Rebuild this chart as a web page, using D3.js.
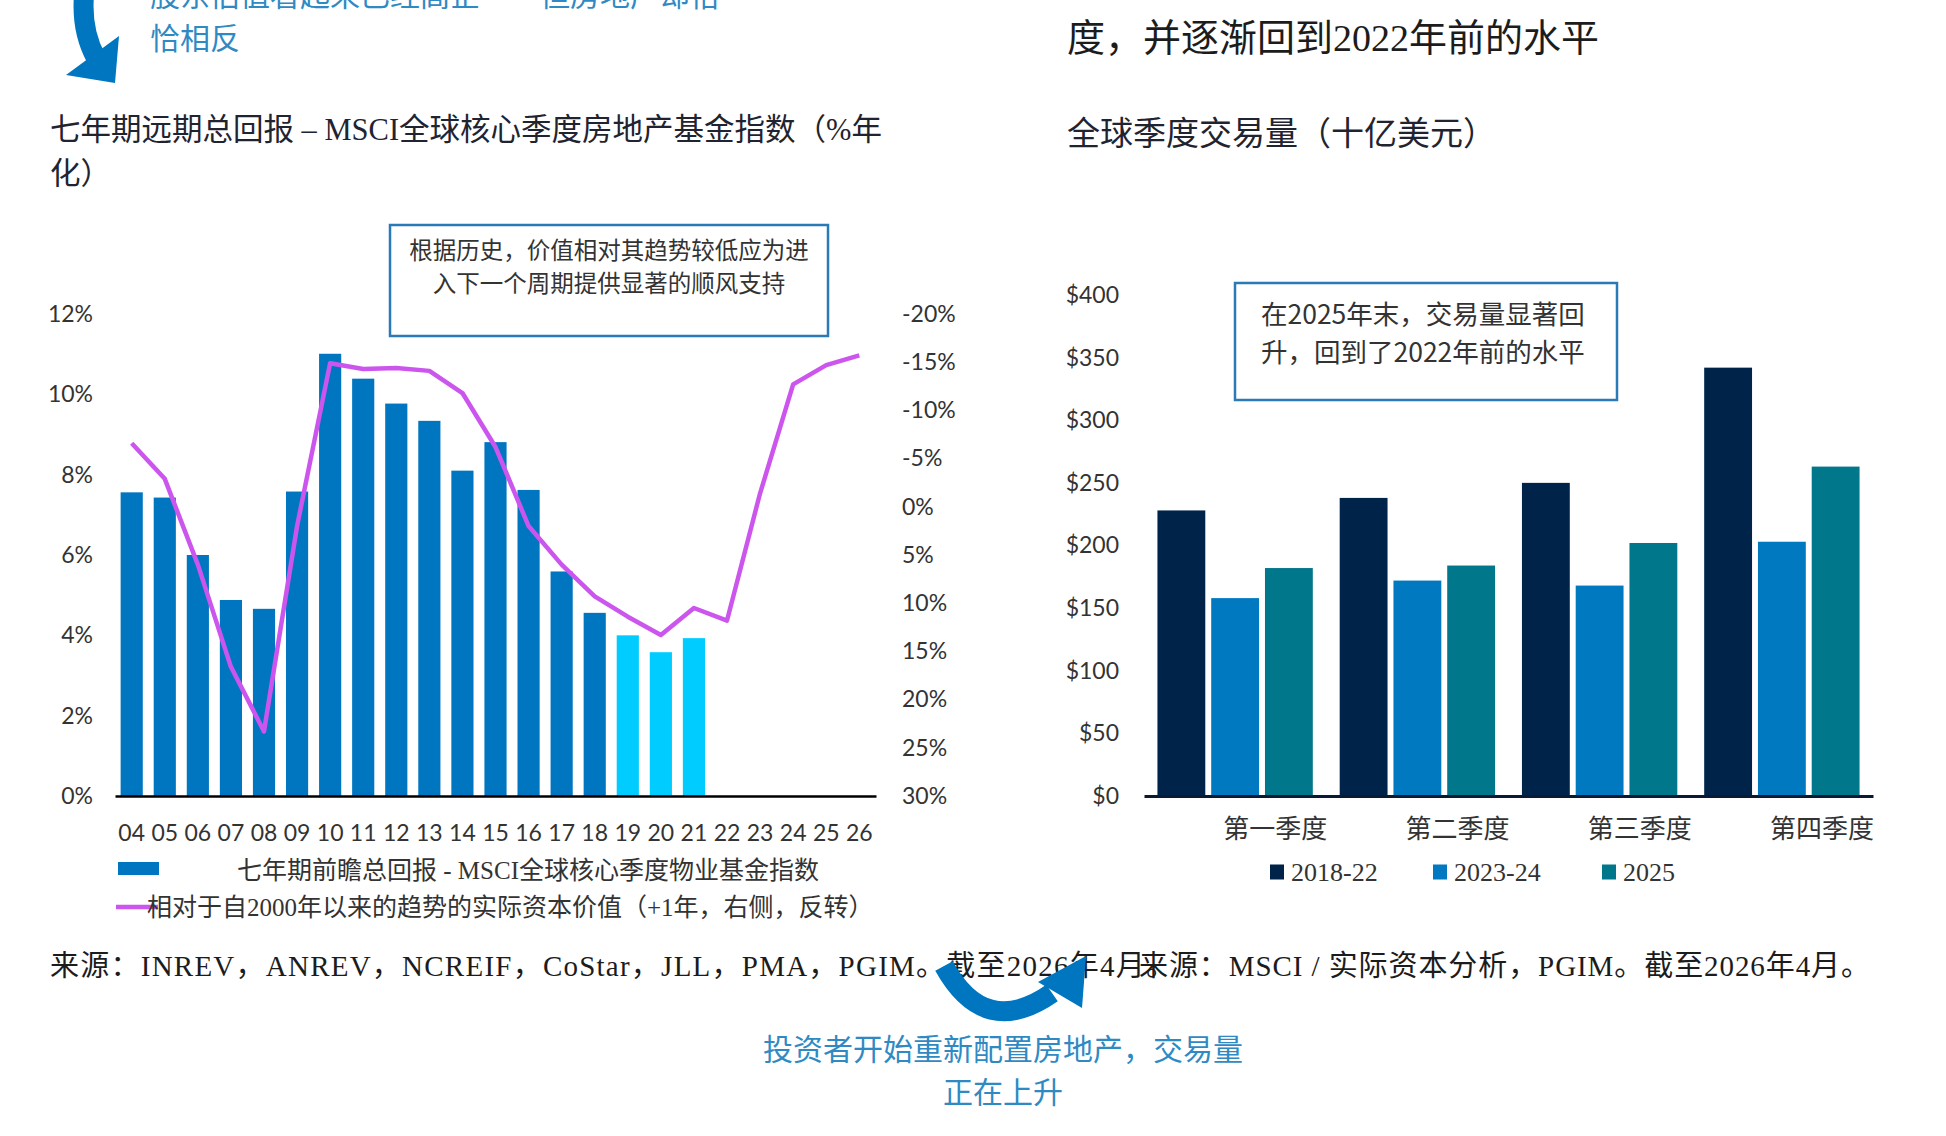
<!DOCTYPE html>
<html>
<head>
<meta charset="utf-8">
<script src="https://cdn.jsdelivr.net/npm/d3@7"></script>
<style>
  body { margin: 0; background: #ffffff; }
</style>
</head>
<body>
<div id="chart"></div>
<script>
const FRAME_WIDTH = 1946;
const FRAME_HEIGHT = 1136;
const SERIF = "'Liberation Serif', 'Noto Sans CJK SC', serif";
const SANS = "Lato, 'Noto Sans CJK SC', sans-serif";
const CJK = "'Noto Sans CJK SC', sans-serif";

// left chart data
const years = ["04", "05", "06", "07", "08", "09", "10", "11", "12", "13", "14", "15",
  "16", "17", "18", "19", "20", "21", "22", "23", "24", "25", "26"];
const returnValues = [7.56, 7.43, 6.00, 4.88, 4.66, 7.58, 11.01, 10.39, 9.77, 9.34, 8.10,
  8.81, 7.62, 5.59, 4.56, 4.00, 3.58, 3.93];
const highlightYears = ["19", "20", "21"];
const capitalValues = [-6.6, -2.9, 6.0, 16.6, 23.3, 2.0, -14.9, -14.3, -14.4, -14.1, -11.8,
  -6.2, 2.0, 6.0, 9.3, 11.4, 13.3, 10.5, 11.8, -1.4, -12.7, -14.7, -15.7];
const leftTicks = [0, 2, 4, 6, 8, 10, 12];
const rightTicks = [-20, -15, -10, -5, 0, 5, 10, 15, 20, 25, 30];

// right chart data
const quarters = ["第一季度", "第二季度", "第三季度", "第四季度"];
const periods = ["2018-22", "2023-24", "2025"];
const vol2018_22 = [228, 238, 250, 342];
const vol2023_24 = [158, 172, 168, 203];
const vol2025 = [182, 184, 202, 263];
const volumeTicks = [0, 50, 100, 150, 200, 250, 300, 350, 400];

let svg = d3.select("#chart")
  .append("svg")
  .attr("width", FRAME_WIDTH)
  .attr("height", FRAME_HEIGHT);

svg.append("rect").attr("width", FRAME_WIDTH).attr("height", FRAME_HEIGHT).attr("fill", "#fff");

// ---------- top texts and arrows ----------
let blueText = "#2f8ac4";

svg.append("path")
  .attr("d", "M 86 -20 Q 78 25 96 58")
  .attr("fill", "none")
  .attr("stroke", "#0076c0")
  .attr("stroke-width", 20);
svg.append("path")
  .attr("d", "M 66 75 L 119 36 L 115 83 Z")
  .attr("fill", "#0076c0");

svg.append("text")
  .attr("x", 150).attr("y", 6)
  .attr("font-family", CJK).attr("font-size", 30).attr("fill", blueText)
  .text("股东估值看起来已经高企……但房地产却恰");
svg.append("text")
  .attr("x", 150).attr("y", 49)
  .attr("font-family", CJK).attr("font-size", 30).attr("fill", blueText)
  .text("恰相反");

svg.append("text")
  .attr("x", 1067).attr("y", 51)
  .attr("font-family", SERIF).attr("font-size", 38).attr("fill", "#1c1c1c")
  .text("度，并逐渐回到2022年前的水平");

// ---------- left chart ----------
svg.append("text")
  .attr("x", 50).attr("y", 140)
  .attr("font-family", SERIF).attr("font-size", 30.5).attr("fill", "#1f2430")
  .text("七年期远期总回报 – MSCI全球核心季度房地产基金指数（%年");
svg.append("text")
  .attr("x", 50).attr("y", 184)
  .attr("font-family", SERIF).attr("font-size", 30.5).attr("fill", "#1f2430")
  .text("化）");

let x_left = d3.scaleBand()
  .domain(years)
  .range([115, 876])
  .paddingInner(0.33)
  .paddingOuter(0.17);

let y_left = d3.scaleLinear().domain([0, 12]).range([796, 314]);
let y_right = d3.scaleLinear().domain([-20, 30]).range([314, 796]);

let barData = returnValues.map(function(v, i) { return { year: years[i], value: v }; });

svg.append("g")
  .selectAll("rect")
  .data(barData)
  .enter()
  .append("rect")
  .attr("x", function(d) { return x_left(d.year); })
  .attr("width", x_left.bandwidth())
  .attr("y", function(d) { return y_left(d.value); })
  .attr("height", function(d) { return y_left(0) - y_left(d.value); })
  .attr("fill", function(d) { return highlightYears.includes(d.year) ? "#00ccff" : "#0076c0"; });

let line = d3.line()
  .x(function(d, i) { return x_left(years[i]) + x_left.bandwidth() / 2; })
  .y(function(d) { return y_right(d); });

svg.append("path")
  .datum(capitalValues)
  .attr("d", line)
  .attr("fill", "none")
  .attr("stroke", "#cc55ee")
  .attr("stroke-width", 4.5)
  .attr("stroke-linejoin", "round");

let xAxisLeft = svg.append("g")
  .attr("transform", "translate(0,796)")
  .call(d3.axisBottom(x_left).tickSize(0).tickSizeOuter(0).tickPadding(29));
xAxisLeft.select(".domain").attr("stroke", "#000").attr("stroke-width", 2.5);
xAxisLeft.selectAll("text").attr("font-family", SANS).attr("font-size", 23).attr("fill", "#333");

let yAxisLeft = svg.append("g")
  .attr("transform", "translate(93,0)")
  .call(d3.axisLeft(y_left).tickValues(leftTicks).tickSize(0).tickPadding(0)
    .tickFormat(function(d) { return d + "%"; }));
yAxisLeft.select(".domain").remove();
yAxisLeft.selectAll("text").attr("font-family", SANS).attr("font-size", 23).attr("fill", "#333");

let yAxisRight = svg.append("g")
  .attr("transform", "translate(902,0)")
  .call(d3.axisRight(y_right).tickValues(rightTicks).tickSize(0).tickPadding(0)
    .tickFormat(function(d) { return d + "%"; }));
yAxisRight.select(".domain").remove();
yAxisRight.selectAll("text").attr("font-family", SANS).attr("font-size", 23).attr("fill", "#333");

// annotation box (left)
svg.append("rect")
  .attr("x", 390).attr("y", 225).attr("width", 438).attr("height", 111)
  .attr("fill", "#fff").attr("stroke", "#2a7ab8").attr("stroke-width", 2.5);
svg.append("text")
  .attr("x", 609).attr("y", 259).attr("text-anchor", "middle")
  .attr("font-family", CJK).attr("font-size", 23.5).attr("fill", "#333")
  .text("根据历史，价值相对其趋势较低应为进");
svg.append("text")
  .attr("x", 609).attr("y", 292).attr("text-anchor", "middle")
  .attr("font-family", CJK).attr("font-size", 23.5).attr("fill", "#333")
  .text("入下一个周期提供显著的顺风支持");

// left legend
svg.append("rect")
  .attr("x", 118).attr("y", 862).attr("width", 41).attr("height", 13)
  .attr("fill", "#0076c0");
svg.append("text")
  .attr("x", 237).attr("y", 879)
  .attr("font-family", SERIF).attr("font-size", 25).attr("fill", "#333")
  .text("七年期前瞻总回报 - MSCI全球核心季度物业基金指数");
svg.append("line")
  .attr("x1", 116).attr("x2", 158).attr("y1", 907).attr("y2", 907)
  .attr("stroke", "#cc55ee").attr("stroke-width", 4.5);
svg.append("text")
  .attr("x", 147).attr("y", 916)
  .attr("font-family", SERIF).attr("font-size", 25).attr("fill", "#333")
  .text("相对于自2000年以来的趋势的实际资本价值（+1年，右侧，反转）");

// ---------- right chart ----------
svg.append("text")
  .attr("x", 1067).attr("y", 145)
  .attr("font-family", SERIF).attr("font-size", 33).attr("fill", "#1f2430")
  .text("全球季度交易量（十亿美元）");

let x0 = d3.scaleBand().domain(quarters).range([1144, 1873]);
let x1 = d3.scaleBand().domain(periods).range([0, x0.bandwidth()])
  .paddingInner(0.11).paddingOuter(0.25);
let y_vol = d3.scaleLinear().domain([0, 400]).range([796, 295]);
let color = d3.scaleOrdinal().domain(periods).range(["#00234a", "#0079c1", "#00778b"]);

let volumeRows = quarters.map(function(q, i) {
  return { quarter: q, values: [vol2018_22[i], vol2023_24[i], vol2025[i]] };
});

svg.append("g")
  .selectAll("g")
  .data(volumeRows)
  .enter()
  .append("g")
  .attr("transform", function(d) { return "translate(" + x0(d.quarter) + ",0)"; })
  .selectAll("rect")
  .data(function(d) { return d.values.map(function(v, j) { return { period: periods[j], value: v }; }); })
  .enter()
  .append("rect")
  .attr("x", function(d) { return x1(d.period); })
  .attr("width", x1.bandwidth())
  .attr("y", function(d) { return y_vol(d.value); })
  .attr("height", function(d) { return y_vol(0) - y_vol(d.value); })
  .attr("fill", function(d) { return color(d.period); });

let xAxisRight = svg.append("g")
  .attr("transform", "translate(0,796)")
  .call(d3.axisBottom(x0).tickSize(0).tickSizeOuter(0).tickPadding(24));
xAxisRight.select(".domain").attr("stroke", "#0b1a33").attr("stroke-width", 3);
xAxisRight.selectAll("text")
  .attr("dx", 40)
  .attr("font-family", CJK).attr("font-size", 26).attr("fill", "#333");

let yAxisVol = svg.append("g")
  .attr("transform", "translate(1119,0)")
  .call(d3.axisLeft(y_vol).tickValues(volumeTicks).tickSize(0).tickPadding(0)
    .tickFormat(function(d) { return "$" + d; }));
yAxisVol.select(".domain").remove();
yAxisVol.selectAll("text").attr("font-family", SANS).attr("font-size", 23).attr("fill", "#333");

// annotation box (right)
svg.append("rect")
  .attr("x", 1235).attr("y", 283).attr("width", 382).attr("height", 117)
  .attr("fill", "#fff").attr("stroke", "#2a7ab8").attr("stroke-width", 2.5);
svg.append("text")
  .attr("x", 1261).attr("y", 324)
  .attr("font-family", CJK).attr("font-size", 26.5).attr("fill", "#333")
  .text("在2025年末，交易量显著回");
svg.append("text")
  .attr("x", 1261).attr("y", 362)
  .attr("font-family", CJK).attr("font-size", 26.5).attr("fill", "#333")
  .text("升，回到了2022年前的水平");

// right legend
let legendX = [1270, 1433, 1602];
let legend = svg.append("g")
  .selectAll("g")
  .data(periods)
  .enter()
  .append("g")
  .attr("transform", function(d, i) { return "translate(" + legendX[i] + ",872)"; });
legend.append("rect")
  .attr("x", 0).attr("y", -7.5).attr("width", 14).attr("height", 15)
  .attr("fill", function(d) { return color(d); });
legend.append("text")
  .attr("x", 21).attr("y", 9)
  .attr("font-family", SERIF).attr("font-size", 26).attr("fill", "#333")
  .text(function(d) { return d; });

// ---------- sources and bottom note ----------
svg.append("text")
  .attr("x", 50).attr("y", 976)
  .attr("font-family", SERIF).attr("font-size", 29).attr("fill", "#1c1c1c")
  .attr("textLength", 1125)
  .text("来源：INREV，ANREV，NCREIF，CoStar，JLL，PMA，PGIM。截至2026年4月。");
svg.append("text")
  .attr("x", 1139).attr("y", 976)
  .attr("font-family", SERIF).attr("font-size", 29).attr("fill", "#1c1c1c")
  .attr("textLength", 731)
  .text("来源：MSCI / 实际资本分析，PGIM。截至2026年4月。");

svg.append("path")
  .attr("d", "M 944 966 Q 985 1040 1052 993")
  .attr("fill", "none")
  .attr("stroke", "#0076c0")
  .attr("stroke-width", 20);
svg.append("path")
  .attr("d", "M 1038 982 L 1086 956 L 1082 1008 Z")
  .attr("fill", "#0076c0");

svg.append("text")
  .attr("x", 1003).attr("y", 1060).attr("text-anchor", "middle")
  .attr("font-family", CJK).attr("font-size", 30).attr("fill", blueText)
  .text("投资者开始重新配置房地产，交易量");
svg.append("text")
  .attr("x", 1003).attr("y", 1103).attr("text-anchor", "middle")
  .attr("font-family", CJK).attr("font-size", 30).attr("fill", blueText)
  .text("正在上升");
</script>
</body>
</html>
